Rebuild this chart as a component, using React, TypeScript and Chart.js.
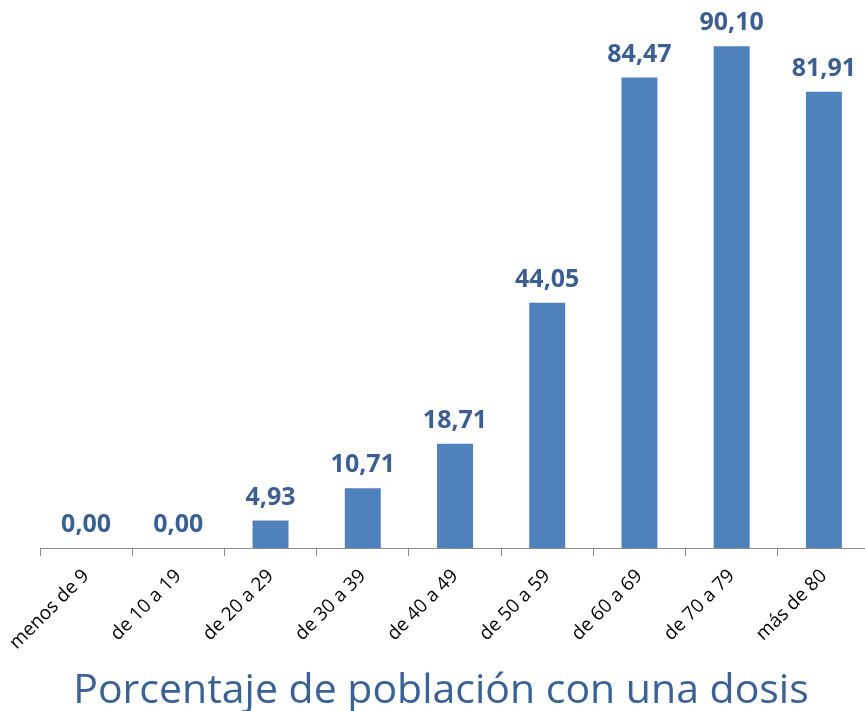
import React, { useEffect, useRef } from "react";
import { Chart, registerables } from "chart.js";

Chart.register(...registerables);

const categories = [
  "menos de 9",
  "de 10 a 19",
  "de 20 a 29",
  "de 30 a 39",
  "de 40 a 49",
  "de 50 a 59",
  "de 60 a 69",
  "de 70 a 79",
  "más de 80",
];
const values = [0.0, 0.0, 4.93, 10.71, 18.71, 44.05, 84.47, 90.1, 81.91];
const chartTitle = "Porcentaje de población con una dosis";

const fmt = (v: number) => v.toFixed(2).replace(".", ",");

const labelPlugin = {
  id: "barLabels",
  afterDatasetsDraw(chart: any) {
    const ctx = chart.ctx;
    const meta = chart.getDatasetMeta(0);
    ctx.save();
    ctx.font = "bold 25px 'Open Sans'";
    ctx.fillStyle = "#3B5F92";
    ctx.textAlign = "center";
    ctx.textBaseline = "alphabetic";
    meta.data.forEach((el: any, i: number) => {
      ctx.fillText(fmt(values[i]), el.x, el.y - 16);
    });
    ctx.restore();
  },
};

const titlePlugin = {
  id: "bottomTitle",
  afterDraw(chart: any) {
    const ctx = chart.ctx;
    ctx.save();
    ctx.font = "41px 'Open Sans'";
    ctx.fillStyle = "#3A6296";
    ctx.textAlign = "center";
    ctx.textBaseline = "alphabetic";
    ctx.fillText(chartTitle, 441, 703);
    ctx.restore();
  },
};

export default function App() {
  const ref = useRef<HTMLCanvasElement>(null);
  useEffect(() => {
    if (!ref.current) return;
    const chart = new Chart(ref.current, {
      type: "bar",
      data: {
        labels: categories,
        datasets: [
          {
            data: values,
            backgroundColor: "#4F81BD",
            categoryPercentage: 1,
            barPercentage: 0.39,
          },
        ],
      },
      options: {
        animation: false,
        responsive: false,
        devicePixelRatio: 1,
        layout: { padding: { left: 40, right: 5, top: 0, bottom: 41 } },
        plugins: {
          legend: { display: false },
          tooltip: { enabled: false },
          title: { display: false },
        },
        scales: {
          x: {
            afterFit: (s: any) => {
              s.height = 122;
            },
            grid: {
              display: true,
              drawOnChartArea: false,
              drawTicks: true,
              tickLength: 8,
              offset: true,
              color: "#8C8C8C",
            },
            border: { display: true, color: "#8C8C8C", width: 1 },
            ticks: {
              color: "#000000",
              font: { family: "'Open Sans'", size: 19 },
              minRotation: 45,
              maxRotation: 45,
              padding: 9,
            },
          },
          y: {
            display: false,
            min: 0,
            max: 98.4,
          },
        },
      },
      plugins: [labelPlugin, titlePlugin],
    });
    return () => chart.destroy();
  }, []);
  return (
    <div style={{ position: "fixed", left: 0, top: 0, width: 865, height: 711, overflow: "hidden", background: "#fff" }}>
      <canvas ref={ref} width={875} height={711} style={{ display: "block" }} />
    </div>
  );
}
